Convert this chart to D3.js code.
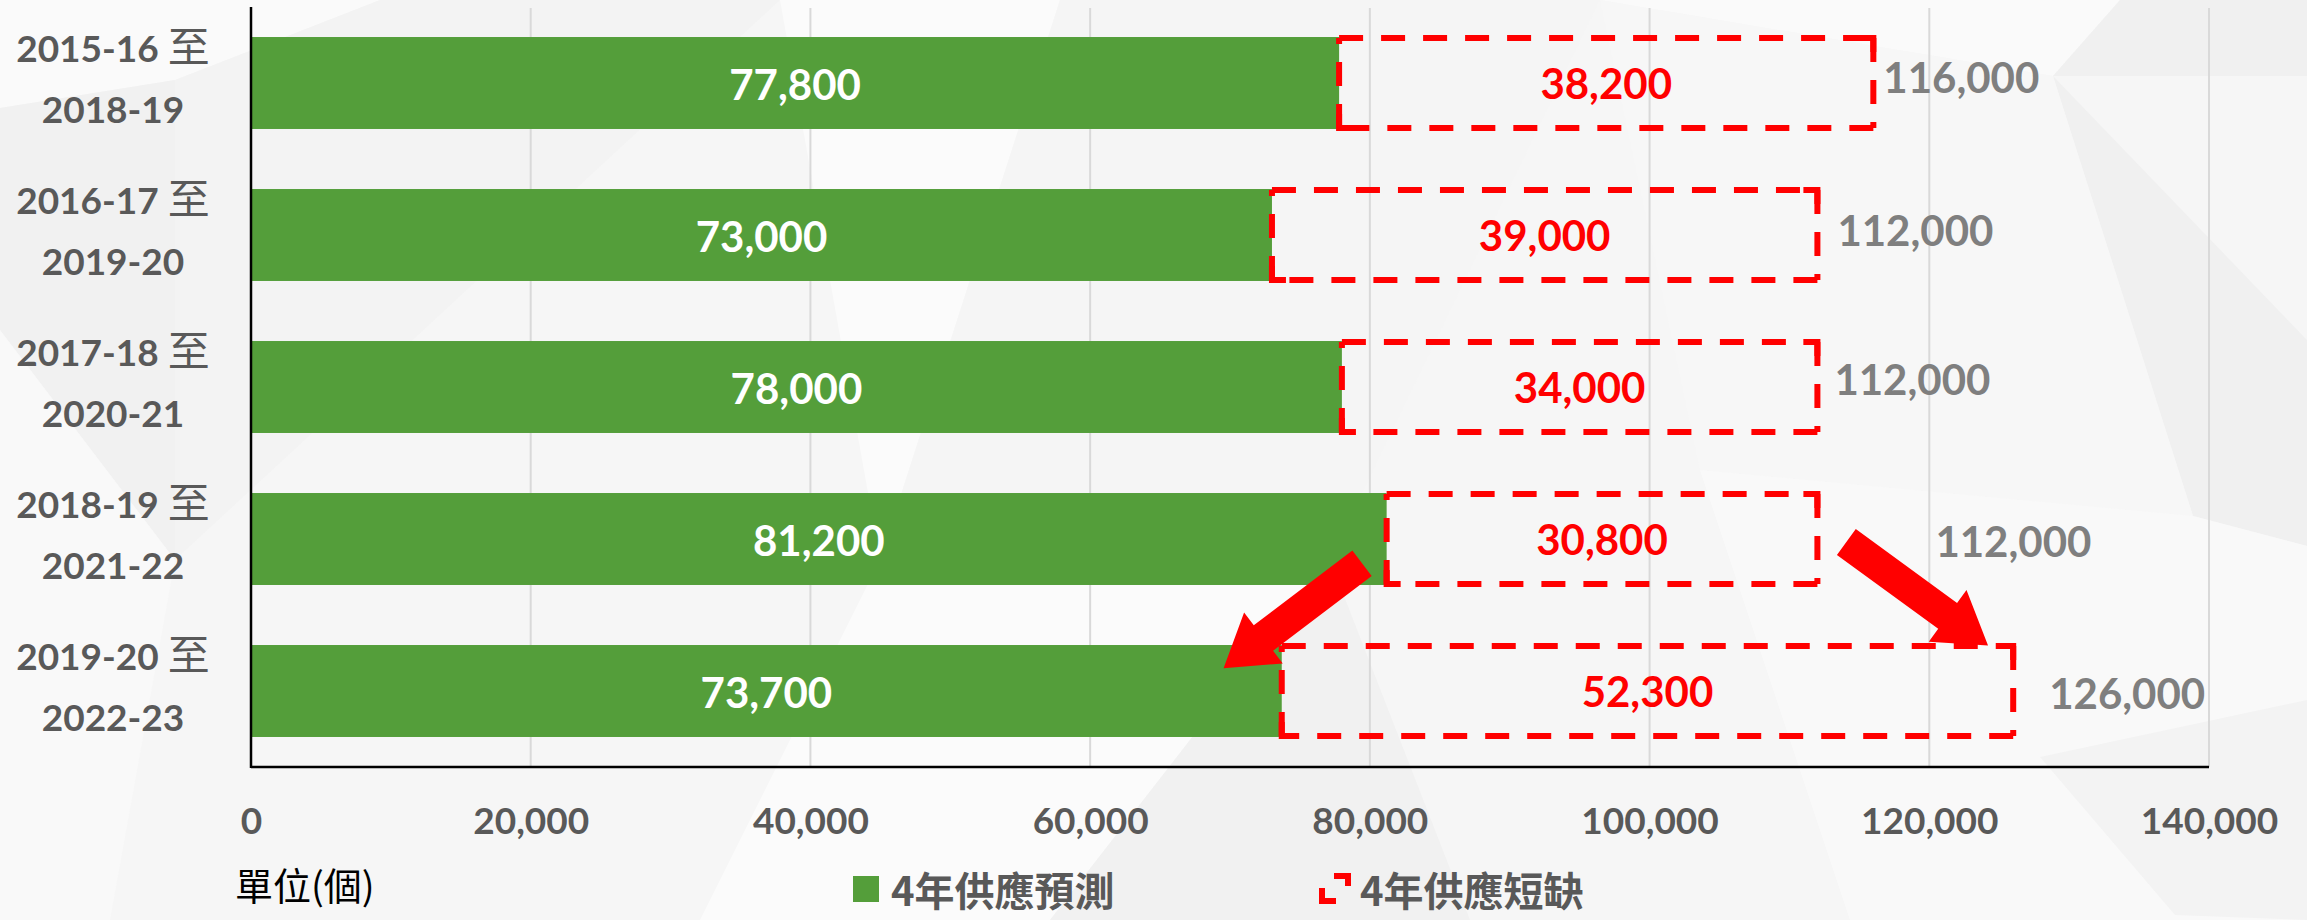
<!DOCTYPE html>
<html><head><meta charset="utf-8">
<script src="https://cdn.jsdelivr.net/npm/d3@7"></script>
<style>
body{margin:0;background:#f6f6f6;}
svg{display:block}
</style>
</head><body>
<svg id="chart" width="2307" height="920"></svg>
<script>
// ---------------- data ----------------
const periodStart = ["2015-16 至", "2016-17 至", "2017-18 至", "2018-19 至", "2019-20 至"];
const periodEnd = ["2018-19", "2019-20", "2020-21", "2021-22", "2022-23"];
const supplyForecast = [77800, 73000, 78000, 81200, 73700];
const supplyShortage = [38200, 39000, 34000, 30800, 52300];
const totalDemand = [116000, 112000, 112000, 112000, 126000];
const xTickValues = [0, 20000, 40000, 60000, 80000, 100000, 120000, 140000];
const legendLabels = ["4年供應預測", "4年供應短缺"];
const unitLabel = "單位(個)";
// annotation arrows in data terms: [value, category position]
const arrowFrom = [[79440, 3.16], [114070, 3.02]];
const arrowTo = [[69540, 3.85], [124200, 3.70]];
// manual nudges of the total labels (px)
const totalLabelNudge = [[10, -5], [20, -4], [17, -7], [118, 3], [36, 3]];

// ---------------- setup ----------------
const W = 2307, H = 920;
const svg = d3.select("#chart");
const NUM = "Lato, 'Open Sans', sans-serif";
const CJK = "'Noto Sans CJK TC', 'Noto Sans CJK SC', sans-serif";
const GREEN = "#549e3a", RED = "#ff0000", DARK = "#595959", GREY = "#7f7f7f";

// background low-poly decoration
const bg = svg.append("g");
bg.append("rect").attr("width", W).attr("height", H).attr("fill", "#f6f6f6");
const polys = [
  {p: [[0,0],[380,0],[175,80],[0,108]], f: "#fafafa"},
  {p: [[0,108],[175,80],[175,560],[0,330]], f: "#f1f1f1"},
  {p: [[0,330],[175,560],[110,920],[0,920]], f: "#f9f9f9"},
  {p: [[175,80],[380,0],[780,0],[175,560]], f: "#f3f3f3"},
  {p: [[780,0],[1060,0],[880,560]], f: "#fbfbfb"},
  {p: [[1060,0],[1600,0],[1330,560],[880,560]], f: "#f5f5f5"},
  {p: [[880,560],[1330,560],[1050,920],[700,920]], f: "#fbfbfb"},
  {p: [[1330,560],[1470,920],[1050,920]], f: "#f1f1f1"},
  {p: [[1600,0],[2053,76],[2120,0]], f: "#fafafa"},
  {p: [[2120,0],[2307,0],[2307,76],[2053,76]], f: "#f0f0f0"},
  {p: [[2053,76],[2307,340],[2307,546],[2193,516]], f: "#f0f0f0"},
  {p: [[1600,0],[2053,76],[2193,516],[1700,470]], f: "#f7f7f7"},
  {p: [[1700,470],[2193,516],[2307,546],[2307,920],[1850,920]], f: "#f9f9f9"},
  {p: [[2040,757],[2307,700],[2307,920],[2175,915]], f: "#f3f3f3"}
];
bg.selectAll("polygon").data(polys).join("polygon")
  .attr("points", d => d.p.map(q => q.join(",")).join(" "))
  .attr("fill", d => d.f);

// ---------------- scales ----------------
const x = d3.scaleLinear().domain([0, 140000]).range([251, 2209]);
const y = d3.scaleBand().domain(periodStart).range([7, 767]).paddingInner(0.395).paddingOuter(0.1975);
const bw = y.bandwidth();
const yPos = t => y(periodStart[0]) + bw / 2 + t * y.step();

// gridlines
svg.append("g").selectAll("line").data(xTickValues.slice(1)).join("line")
  .attr("x1", d => x(d)).attr("x2", d => x(d))
  .attr("y1", 8).attr("y2", 767)
  .attr("stroke", "#d9d9d9").attr("stroke-width", 2);

// x-axis tick labels via d3 axis
const xAxis = svg.append("g").attr("transform", "translate(0,767)")
  .call(d3.axisBottom(x).tickValues(xTickValues).tickFormat(d3.format(",")).tickSize(0).tickPadding(0));
xAxis.select(".domain").remove();
xAxis.selectAll("text")
  .attr("y", 54).attr("dy", "0.36em")
  .attr("fill", DARK).attr("font-family", NUM).attr("font-weight", 700).attr("font-size", 37);

// green bars
svg.append("g").selectAll("rect").data(supplyForecast).join("rect")
  .attr("x", x(0)).attr("y", (d, i) => y(periodStart[i]))
  .attr("width", d => x(d) - x(0)).attr("height", bw)
  .attr("fill", GREEN);

// dashed shortage boxes (each side drawn from its starting corner)
const boxG = svg.append("g");
supplyShortage.forEach((s, i) => {
  const x0 = x(supplyForecast[i]), x1 = x(supplyForecast[i] + s);
  const y0 = y(periodStart[i]) + 1, y1 = y(periodStart[i]) + bw - 1;
  const sides = [[x0, y0, x1, y0], [x1, y0, x1, y1], [x1, y1, x0, y1], [x0, y1, x0, y0]];
  boxG.selectAll(null).data(sides).join("line")
    .attr("x1", d => d[0]).attr("y1", d => d[1]).attr("x2", d => d[2]).attr("y2", d => d[3])
    .attr("stroke", RED).attr("stroke-width", 6)
    .attr("stroke-dasharray", "24 18").attr("stroke-linecap", "butt");
  // corner squares
  boxG.selectAll(null).data([[x1, y0], [x0, y1]]).join("path")
    .attr("d", (d, k) => k === 0
      ? `M${d[0]-14},${d[1]} H${d[0]} V${d[1]+14}`
      : `M${d[0]+14},${d[1]} H${d[0]} V${d[1]-14}`)
    .attr("fill", "none").attr("stroke", RED).attr("stroke-width", 6);
});

// axis lines
svg.append("line").attr("x1", x(0)).attr("x2", x(0)).attr("y1", 7).attr("y2", 768)
  .attr("stroke", "#000").attr("stroke-width", 2.5);
svg.append("line").attr("x1", x(0)).attr("x2", x(140000)).attr("y1", 767).attr("y2", 767)
  .attr("stroke", "#000").attr("stroke-width", 2.5);

// category labels
const catG = svg.append("g");
periodStart.forEach((s, i) => {
  const cy = y(s) + bw / 2;
  const t1 = catG.append("text").attr("x", 113).attr("y", cy - 27).attr("dy", "0.36em")
    .attr("text-anchor", "middle").attr("fill", DARK);
  t1.append("tspan").attr("font-family", NUM).attr("font-weight", 700).attr("font-size", 37)
    .text(s.replace(" 至", "") + " ");
  t1.append("tspan").attr("font-family", CJK).attr("font-weight", 400).attr("font-size", 42)
    .text("至");
  catG.append("text").attr("x", 113).attr("y", cy + 27).attr("dy", "0.36em")
    .attr("text-anchor", "middle").attr("fill", DARK)
    .attr("font-family", NUM).attr("font-weight", 700).attr("font-size", 37)
    .text(periodEnd[i]);
});

const fmt = d3.format(",");
// green bar labels
svg.append("g").selectAll("text").data(supplyForecast).join("text")
  .attr("x", d => (x(0) + x(d)) / 2).attr("y", (d, i) => y(periodStart[i]) + bw / 2 + 2)
  .attr("dy", "0.36em").attr("text-anchor", "middle")
  .attr("fill", "#fff").attr("font-family", NUM).attr("font-weight", 700).attr("font-size", 42)
  .text(fmt);
// shortage labels
svg.append("g").selectAll("text").data(supplyShortage).join("text")
  .attr("x", (d, i) => (x(supplyForecast[i]) + x(supplyForecast[i] + d)) / 2)
  .attr("y", (d, i) => y(periodStart[i]) + bw / 2 + 1)
  .attr("dy", "0.36em").attr("text-anchor", "middle")
  .attr("fill", RED).attr("font-family", NUM).attr("font-weight", 700).attr("font-size", 42)
  .text(fmt);
// total labels
svg.append("g").selectAll("text").data(totalDemand).join("text")
  .attr("x", (d, i) => x(d) + totalLabelNudge[i][0])
  .attr("y", (d, i) => y(periodStart[i]) + bw / 2 + totalLabelNudge[i][1])
  .attr("dy", "0.36em").attr("text-anchor", "start")
  .attr("fill", GREY).attr("font-family", NUM).attr("font-weight", 700).attr("font-size", 42)
  .text(fmt);

// arrows
function arrowPath(a, b) {
  const T = [x(a[0]), yPos(a[1])], P = [x(b[0]), yPos(b[1])];
  const dx = P[0] - T[0], dy = P[1] - T[1], L = Math.hypot(dx, dy);
  const u = [dx / L, dy / L], n = [-u[1], u[0]];
  const sw = 16, hw = 32, hl = 50;
  const B = [P[0] - u[0] * hl, P[1] - u[1] * hl];
  const pts = [
    [T[0] + n[0]*sw, T[1] + n[1]*sw], [B[0] + n[0]*sw, B[1] + n[1]*sw],
    [B[0] + n[0]*hw, B[1] + n[1]*hw], P,
    [B[0] - n[0]*hw, B[1] - n[1]*hw], [B[0] - n[0]*sw, B[1] - n[1]*sw],
    [T[0] - n[0]*sw, T[1] - n[1]*sw]
  ];
  return "M" + pts.map(p => p.join(",")).join("L") + "Z";
}
svg.append("g").selectAll("path").data(arrowFrom).join("path")
  .attr("d", (d, i) => arrowPath(d, arrowTo[i]))
  .attr("fill", RED);

// unit label
svg.append("text").attr("x", 235).attr("y", 886).attr("dy", "0.36em")
  .attr("fill", "#000").attr("font-family", CJK).attr("font-weight", 400).attr("font-size", 38)
  .text(unitLabel);

// legend
const lg = svg.append("g");
lg.append("rect").attr("x", 853).attr("y", 876).attr("width", 26).attr("height", 26).attr("fill", GREEN);
lg.append("path").attr("d", "M1334,876 H1348 V886 M1336,901 H1322 V888")
  .attr("fill", "none").attr("stroke", RED).attr("stroke-width", 6);
lg.selectAll("text").data(legendLabels).join("text")
  .attr("x", (d, i) => i === 0 ? 891 : 1360).attr("y", 892).attr("dy", "0.36em")
  .attr("fill", DARK).attr("font-family", CJK).attr("font-weight", 700).attr("font-size", 40)
  .text(d => d);
</script>
</body></html>
